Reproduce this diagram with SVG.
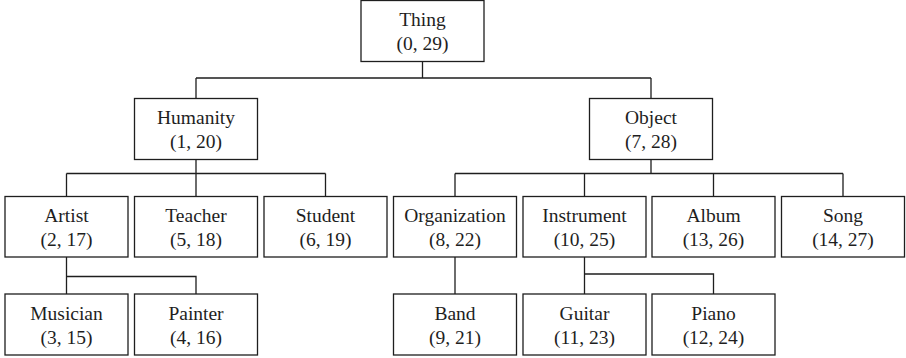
<svg xmlns="http://www.w3.org/2000/svg" width="906" height="358" viewBox="0 0 906 358">
  <style>
    .box { fill: #ffffff; stroke: #1e1e1e; stroke-width: 1.3; }
    .link { fill: none; stroke: #1e1e1e; stroke-width: 1.3; }
    .label { font-size: 19.5px; fill: #1e1e1e; text-anchor: middle; }
  </style>
  <rect x="0" y="0" width="906" height="358" fill="#ffffff"/>

  <!-- tree connectors -->
  <g id="connectors">
    <path class="link" d="M422.5 61.5 V78 M196 78 H651 M196 78 V98.5 M651 78 V98.5"/>
    <path class="link" d="M196 159.5 V173.5 M66.5 173.5 H325.5 M66.5 173.5 V196.5 M196 173.5 V196.5 M325.5 173.5 V196.5"/>
    <path class="link" d="M651 159.5 V173.5 M455 173.5 H843 M455 173.5 V196.5 M584.5 173.5 V196.5 M713.5 173.5 V196.5 M843 173.5 V196.5"/>
    <path class="link" d="M66.5 257 V276.5 H196 V294 M66.5 276.5 V294"/>
    <path class="link" d="M455 257 V294"/>
    <path class="link" d="M584.5 257 V274 H713.5 V294 M584.5 274 V294"/>
  </g>

  <g font-family="Liberation Serif, DejaVu Serif, serif">
  <g id="thing">
    <rect class="box" x="361" y="0.5" width="123" height="61"/>
    <text class="label" x="422.5" y="26">Thing</text>
    <text class="label" x="422.5" y="50">(0, 29)</text>
  </g>

  <g id="humanity">
    <rect class="box" x="134.5" y="98.5" width="123" height="61"/>
    <text class="label" x="196" y="124">Humanity</text>
    <text class="label" x="196" y="148">(1, 20)</text>
  </g>
  <g id="object">
    <rect class="box" x="589.5" y="98.5" width="123" height="61"/>
    <text class="label" x="651" y="124">Object</text>
    <text class="label" x="651" y="148">(7, 28)</text>
  </g>

  <g id="artist">
    <rect class="box" x="5" y="196.5" width="123" height="60.5"/>
    <text class="label" x="66.5" y="222">Artist</text>
    <text class="label" x="66.5" y="246">(2, 17)</text>
  </g>
  <g id="teacher">
    <rect class="box" x="134.5" y="196.5" width="123" height="60.5"/>
    <text class="label" x="196" y="222">Teacher</text>
    <text class="label" x="196" y="246">(5, 18)</text>
  </g>
  <g id="student">
    <rect class="box" x="264" y="196.5" width="123" height="60.5"/>
    <text class="label" x="325.5" y="222">Student</text>
    <text class="label" x="325.5" y="246">(6, 19)</text>
  </g>
  <g id="organization">
    <rect class="box" x="393.5" y="196.5" width="123" height="60.5"/>
    <text class="label" x="455" y="222">Organization</text>
    <text class="label" x="455" y="246">(8, 22)</text>
  </g>
  <g id="instrument">
    <rect class="box" x="523" y="196.5" width="123" height="60.5"/>
    <text class="label" x="584.5" y="222">Instrument</text>
    <text class="label" x="584.5" y="246">(10, 25)</text>
  </g>
  <g id="album">
    <rect class="box" x="652" y="196.5" width="123" height="60.5"/>
    <text class="label" x="713.5" y="222">Album</text>
    <text class="label" x="713.5" y="246">(13, 26)</text>
  </g>
  <g id="song">
    <rect class="box" x="781.5" y="196.5" width="123" height="60.5"/>
    <text class="label" x="843" y="222">Song</text>
    <text class="label" x="843" y="246">(14, 27)</text>
  </g>

  <g id="musician">
    <rect class="box" x="5" y="294" width="123" height="61"/>
    <text class="label" x="66.5" y="319.5">Musician</text>
    <text class="label" x="66.5" y="343.5">(3, 15)</text>
  </g>
  <g id="painter">
    <rect class="box" x="134.5" y="294" width="123" height="61"/>
    <text class="label" x="196" y="319.5">Painter</text>
    <text class="label" x="196" y="343.5">(4, 16)</text>
  </g>
  <g id="band">
    <rect class="box" x="393.5" y="294" width="123" height="61"/>
    <text class="label" x="455" y="319.5">Band</text>
    <text class="label" x="455" y="343.5">(9, 21)</text>
  </g>
  <g id="guitar">
    <rect class="box" x="523" y="294" width="123" height="61"/>
    <text class="label" x="584.5" y="319.5">Guitar</text>
    <text class="label" x="584.5" y="343.5">(11, 23)</text>
  </g>
  <g id="piano">
    <rect class="box" x="652" y="294" width="123" height="61"/>
    <text class="label" x="713.5" y="319.5">Piano</text>
    <text class="label" x="713.5" y="343.5">(12, 24)</text>
  </g>
  </g>
</svg>
